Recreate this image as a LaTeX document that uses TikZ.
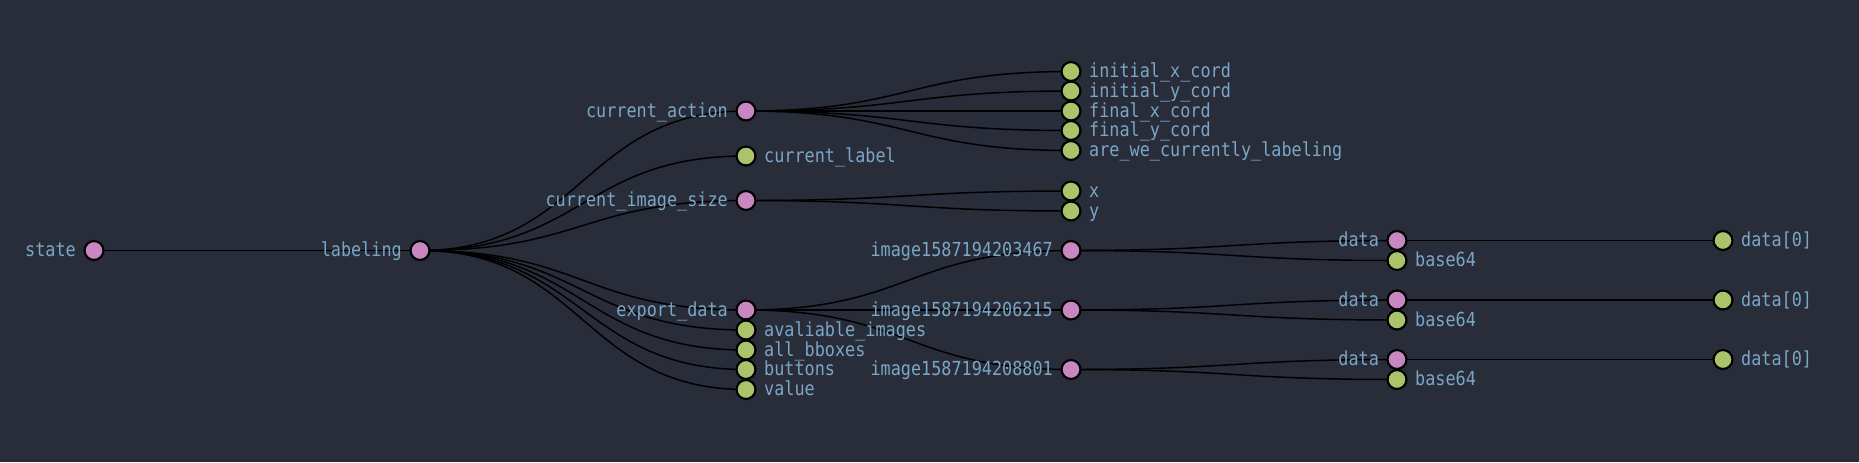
\documentclass[tikz,border=0pt]{standalone}
\usepackage{fontspec}
\usetikzlibrary{calc}
\newfontfamily\treefont[FakeStretch=0.87]{DejaVu Sans Mono}
\definecolor{treebackground}{HTML}{292D39}
\definecolor{treetext}{HTML}{7AA6C8}
\definecolor{treeparent}{HTML}{C987C2}
\definecolor{treeleaf}{HTML}{ABC46C}
\definecolor{treeline}{HTML}{000000}
\pgfdeclarelayer{tree edges}
\pgfsetlayers{tree edges,main}
\tikzset{
  tree dot/.style={
    circle, draw=black, line width=1.6pt,
    minimum size=14.2pt, inner sep=0pt
  },
  tree parent/.style={tree dot, fill=treeparent, label={[tree label]left:#1}},
  tree leaf/.style={tree dot, fill=treeleaf, label={[tree label]right:#1}},
  tree label/.style={
    text=treetext, font=\treefont\fontsize{14.5}{17}\selectfont,
    inner sep=0pt, text height=9pt, text depth=0pt, label distance=5.5pt
  },
  tree link/.style={draw=treeline, line width=1.1pt}
}

\begin{document}
\begin{tikzpicture}[x=0.75pt,y=-0.75pt]
  \useasboundingbox (0,0) rectangle (1859,462);
  \begin{pgfonlayer}{tree edges}
    \fill[treebackground] (0,0) rectangle (1859,462);
  \end{pgfonlayer}

  \node[tree parent=state] (state) at (94,250.5) {};
  \node[tree parent=labeling] (labeling) at (420,250.5) {};

  \node[tree parent=current\_action] (curaction) at (746,111) {};
  \node[tree leaf=current\_label] (curlabel) at (746,156) {};
  \node[tree parent=current\_image\_size] (cursize) at (746,200.5) {};
  \node[tree parent=export\_data] (export) at (746,310) {};
  \node[tree leaf=avaliable\_images] (avail) at (746,330) {};
  \node[tree leaf=all\_bboxes] (bboxes) at (746,350) {};
  \node[tree leaf=buttons] (buttons) at (746,369.5) {};
  \node[tree leaf=value] (value) at (746,389.5) {};

  \node[tree leaf=initial\_x\_cord] (initx) at (1071,71.5) {};
  \node[tree leaf=initial\_y\_cord] (inity) at (1071,91) {};
  \node[tree leaf=final\_x\_cord] (finalx) at (1071,111) {};
  \node[tree leaf=final\_y\_cord] (finaly) at (1071,130.5) {};
  \node[tree leaf=are\_we\_currently\_labeling] (arewe) at (1071,150.5) {};
  \node[tree leaf=x] (sizex) at (1071,191) {};
  \node[tree leaf=y] (sizey) at (1071,211) {};
  \node[tree parent=image1587194203467] (imgA) at (1071,250.5) {};
  \node[tree parent=image1587194206215] (imgB) at (1071,310) {};
  \node[tree parent=image1587194208801] (imgC) at (1071,369.5) {};

  \node[tree parent=data] (dataA) at (1397,240.5) {};
  \node[tree leaf=base64] (baseA) at (1397,260.5) {};
  \node[tree parent=data] (dataB) at (1397,300) {};
  \node[tree leaf=base64] (baseB) at (1397,320) {};
  \node[tree parent=data] (dataC) at (1397,359.5) {};
  \node[tree leaf=base64] (baseC) at (1397,379.5) {};

  \node[tree leaf={{data[0]}}] (zeroA) at (1723,240.5) {};
  \node[tree leaf={{data[0]}}] (zeroB) at (1723,300) {};
  \node[tree leaf={{data[0]}}] (zeroC) at (1723,359.5) {};

  \begin{pgfonlayer}{tree edges}
    \foreach \src/\dst in {state/labeling,
        labeling/curaction, labeling/curlabel, labeling/cursize, labeling/export,
        labeling/avail, labeling/bboxes, labeling/buttons, labeling/value,
        curaction/initx, curaction/inity, curaction/finalx, curaction/finaly, curaction/arewe,
        cursize/sizex, cursize/sizey,
        export/imgA, export/imgB, export/imgC,
        imgA/dataA, imgA/baseA, imgB/dataB, imgB/baseB, imgC/dataC, imgC/baseC,
        dataA/zeroA, dataB/zeroB, dataC/zeroC}
      \draw[tree link] let \p1=(\src.center), \p2=(\dst.center) in
        (\p1) .. controls ({(\x1+\x2)/2},\y1) and ({(\x1+\x2)/2},\y2) .. (\p2);
  \end{pgfonlayer}
\end{tikzpicture}
\end{document}
